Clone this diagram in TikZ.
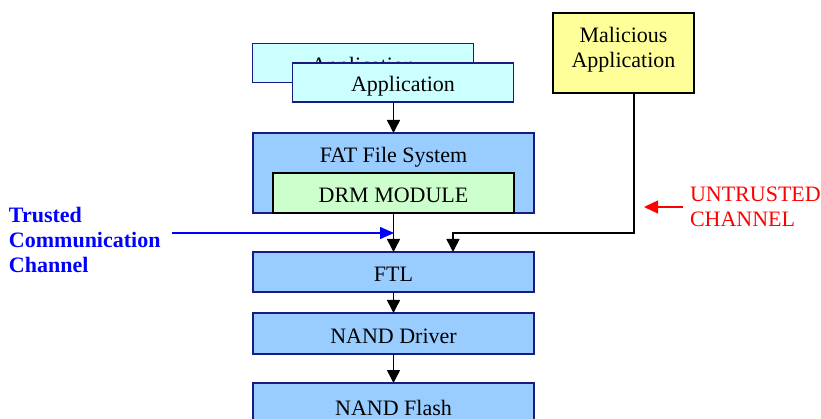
\documentclass[tikz,border=0pt]{standalone}
\usepackage{fontspec}
\setmainfont{Liberation Serif}
\usetikzlibrary{arrows.meta}
\definecolor{boxblue}{HTML}{99CCFF}
\definecolor{appcyan}{HTML}{CCFFFF}
\definecolor{drmgreen}{HTML}{CCFFCC}
\definecolor{malyellow}{HTML}{FFFF99}
\definecolor{navy}{HTML}{1A1A80}
\definecolor{trustblue}{HTML}{0000FF}
\definecolor{untrustred}{HTML}{FF0000}
\begin{document}
\begin{tikzpicture}[x=1pt,y=-1pt,
  every node/.style={inner sep=0pt, outer sep=0pt, font=\fontsize{22}{25}\selectfont},
  boxtext/.style={text height=19pt, text depth=0pt},
  layer/.style={draw=navy, line width=1.5pt, fill=boxblue, minimum width=281pt, minimum height=40pt, boxtext},
  appbox/.style={draw=navy, line width=1.5pt, fill=appcyan, minimum width=221pt, minimum height=39pt, boxtext},
  drmbox/.style={draw=black, line width=1.5pt, fill=drmgreen, minimum width=241pt, minimum height=40pt, boxtext},
  malbox/.style={draw=black, line width=1.5pt, fill=malyellow, minimum width=141pt, minimum height=80pt},
  conn/.style={line width=1.5pt, -{Triangle[width=13pt,length=13pt]}},
  tconn/.style={draw=trustblue, line width=1.2pt, -{Triangle[width=12pt,length=14pt]}},
  uconn/.style={draw=untrustred, line width=1.5pt, -{Triangle[width=13pt,length=14pt]}}]
\clip (0,0) rectangle (821,419);
\fill[white] (0,0) rectangle (821,419);
% applications
\node[appbox] (appback) at (363,63) {Application};
\node[appbox] (appfront) at (403,82.5) {Application};
% FAT + DRM
\node[layer, minimum height=80pt] (fat) at (393.5,173) {};
\node[boxtext] (fattext) at (393.5,153) {FAT File System};
\node[drmbox] (drm) at (393.5,193) {DRM MODULE};
% lower layers
\node[layer] (ftl) at (393.5,272) {FTL};
\node[layer, minimum height=41pt] (driver) at (393.5,333.5) {NAND Driver};
\node[layer, minimum height=46pt] (flash) at (393.5,406) {NAND Flash};
% malicious
\node[malbox] (mal) at (623.5,53) {};
\node[align=center] (maltext) at (623.5,50) {Malicious\\Application};
% labels
\node[anchor=west, align=left, text=trustblue, font=\fontsize{22}{25}\selectfont\bfseries] (trusted) at (9,240) {Trusted\\Communication\\Channel};
\node[anchor=west, align=left, text=untrustred] (untrusted) at (690,206.5) {UNTRUSTED\\CHANNEL};
% coordinates
\coordinate (malout) at (634,93);
\coordinate (malcorner) at (634,233);
\coordinate (ftlin) at (453,233);
\coordinate (tstart) at (172,233);
\coordinate (tend) at (394,233);
\coordinate (ustart) at (683,207);
\coordinate (uend) at (644,207);
% connectors
\draw[conn] (fat.north |- appfront.south) -- (fat.north);
\draw[conn] (drm.south) -- (ftl.north);
\draw[conn] (ftl.south) -- (driver.north);
\draw[conn] (driver.south) -- (flash.north);
\draw[conn] (malout) -- (malcorner) -- (ftlin) -- (ftlin |- ftl.north);
\draw[tconn] (tstart) -- (tend);
\draw[uconn] (ustart) -- (uend);
\end{tikzpicture}
\end{document}
